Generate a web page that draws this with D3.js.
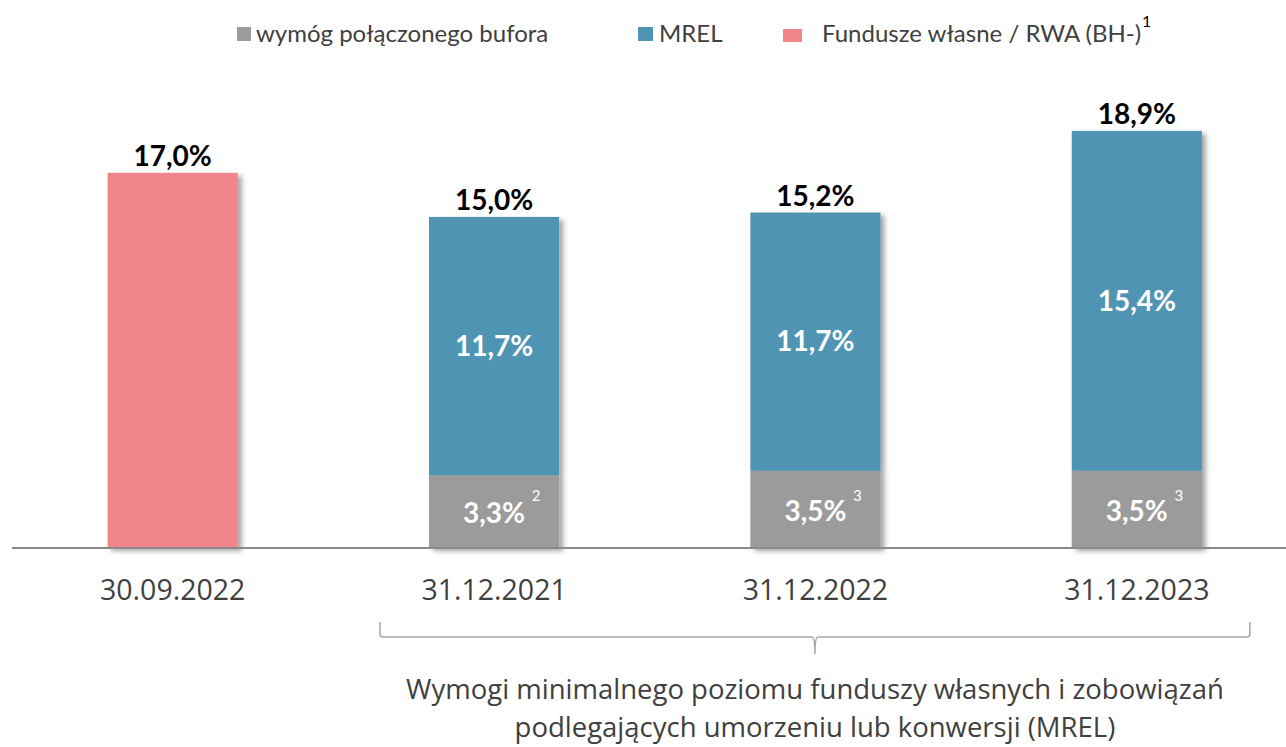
<!DOCTYPE html>
<html>
<head>
<meta charset="utf-8">
<script src="https://cdn.jsdelivr.net/npm/d3@7"></script>
<style>
  html, body { margin: 0; padding: 0; background: #ffffff; }
  svg { display: block; }
</style>
</head>
<body>
<svg id="chart" width="1286" height="747"></svg>
<script>
// Capital requirement data (percent of RWA)
const categories = ["30.09.2022", "31.12.2021", "31.12.2022", "31.12.2023"];
const bufferValues = [null, 3.3, 3.5, 3.5];      // wymóg połączonego bufora
const mrelValues = [null, 11.7, 11.7, 15.4];     // MREL
const ownFundsValues = [17.0, null, null, null]; // Fundusze własne / RWA (BH-)
const bufferNotes = [null, "2", "3", "3"];
const legendLabels = ["wymóg połączonego bufora", "MREL", "Fundusze własne / RWA (BH-)"];
const bracketLines = [
  "Wymogi minimalnego poziomu funduszy własnych i zobowiązań",
  "podlegających umorzeniu lub konwersji (MREL)"
];

const colors = { buffer: "#9b9b9b", mrel: "#4f95b3", own: "#f0868a" };
const fmt = v => d3.format(".1f")(v).replace(".", ",") + "%";

const svg = d3.select("#chart");
const W = 1286;

const baseY = 548;
const x = d3.scaleBand().domain(categories).range([12, 1297.5])
  .paddingInner(0.595).paddingOuter(0.2975);
const y = d3.scaleLinear().domain([0, 20]).range([baseY, baseY - 20 * 22.07]);

// drop shadow for the bars
const defs = svg.append("defs");
const f = defs.append("filter").attr("id", "shadow")
  .attr("x", "-20%").attr("y", "-20%").attr("width", "150%").attr("height", "150%");
f.append("feDropShadow").attr("dx", 4).attr("dy", 3).attr("stdDeviation", 2.5)
  .attr("flood-color", "#000").attr("flood-opacity", 0.35);

// rows with stacked segments
const rows = categories.map((c, i) => ({
  cat: c,
  own: ownFundsValues[i],
  buffer: bufferValues[i],
  mrel: mrelValues[i],
  note: bufferNotes[i],
  total: ownFundsValues[i] != null ? ownFundsValues[i] : bufferValues[i] + mrelValues[i]
}));

const bars = svg.append("g");
rows.forEach(r => {
  const g = bars.append("g").attr("filter", "url(#shadow)");
  const bx = x(r.cat), bw = x.bandwidth();
  if (r.own != null) {
    g.append("rect").attr("x", bx).attr("width", bw)
      .attr("y", y(r.own)).attr("height", y(0) - y(r.own)).attr("fill", colors.own);
  } else {
    g.append("rect").attr("x", bx).attr("width", bw)
      .attr("y", y(r.buffer)).attr("height", y(0) - y(r.buffer)).attr("fill", colors.buffer);
    g.append("rect").attr("x", bx).attr("width", bw)
      .attr("y", y(r.buffer + r.mrel)).attr("height", y(r.buffer) - y(r.buffer + r.mrel))
      .attr("fill", colors.mrel);
  }
});

// axis baseline with category labels
const xAxis = d3.axisBottom(x).tickSize(0);
const axisG = svg.append("g").attr("transform", `translate(0,${baseY})`).call(xAxis);
axisG.select(".domain").attr("d", `M12,0H${W}`).attr("stroke", "#8a8a8a").attr("stroke-width", 2);
axisG.selectAll(".tick text")
  .attr("font-family", "'Open Sans', sans-serif").attr("font-size", 28.5)
  .attr("fill", "#404040").attr("y", 52).attr("dy", 0);

const labelFont = "Lato, 'Open Sans', sans-serif";

// total labels above bars
svg.append("g").selectAll("text").data(rows).join("text")
  .attr("x", d => x(d.cat) + x.bandwidth() / 2)
  .attr("y", d => y(d.total) - 7)
  .attr("text-anchor", "middle")
  .attr("font-family", labelFont).attr("font-weight", 700).attr("font-size", 28)
  .attr("fill", "#000").text(d => fmt(d.total));

// inner labels
const stacked = rows.filter(r => r.own == null);
svg.append("g").selectAll("text").data(stacked).join("text")
  .attr("x", d => x(d.cat) + x.bandwidth() / 2)
  .attr("y", d => (y(d.buffer) + y(d.buffer + d.mrel)) / 2)
  .attr("dy", "0.35em")
  .attr("text-anchor", "middle")
  .attr("font-family", labelFont).attr("font-weight", 700).attr("font-size", 28)
  .attr("fill", "#fff").text(d => fmt(d.mrel));

svg.append("g").selectAll("text").data(stacked).join("text")
  .attr("x", d => x(d.cat) + x.bandwidth() / 2)
  .attr("y", d => (y(d.buffer) + y(0)) / 2 + 2)
  .attr("dy", "0.35em")
  .attr("text-anchor", "middle")
  .attr("font-family", labelFont).attr("font-weight", 700).attr("font-size", 28)
  .attr("fill", "#fff").text(d => fmt(d.buffer));

// footnote markers next to the buffer values
svg.append("g").selectAll("text").data(stacked).join("text")
  .attr("x", d => x(d.cat) + x.bandwidth() / 2 + 42)
  .attr("y", y(0) - 47)
  .attr("text-anchor", "middle")
  .attr("font-family", labelFont).attr("font-size", 15)
  .attr("fill", "#fff").text(d => d.note);

// legend
const legend = svg.append("g").attr("font-family", labelFont).attr("font-size", 24).attr("fill", "#404040");
const legendItems = [
  { label: legendLabels[0], color: colors.buffer, sx: 237, sy: 27, sw: 14, sh: 14, tx: 256 },
  { label: legendLabels[1], color: colors.mrel, sx: 638, sy: 27, sw: 15, sh: 14, tx: 659 },
  { label: legendLabels[2], color: colors.own, sx: 783, sy: 29, sw: 19, sh: 13, tx: 822 }
];
legendItems.forEach(it => {
  legend.append("rect").attr("x", it.sx).attr("y", it.sy).attr("width", it.sw).attr("height", it.sh).attr("fill", it.color);
  legend.append("text").attr("x", it.tx).attr("y", 42).attr("fill", "#404040").text(it.label);
});
legend.append("text").attr("x", 1142).attr("y", 27).attr("font-size", 16).attr("fill", "#000").text("1");

// bracket spanning the MREL dates
const bx0 = x(categories[1]) + x.bandwidth() / 2 - 114;
const bx1 = x(categories[3]) + x.bandwidth() / 2 + 113;
const bmid = (bx0 + bx1) / 2;
const bTop = 622, bH = 637, bTip = 654;
svg.append("path")
  .attr("d", `M${bx0},${bTop} V${bH - 3} Q${bx0},${bH} ${bx0 + 3},${bH} H${bmid - 3} Q${bmid},${bH} ${bmid},${bTip} Q${bmid},${bH} ${bmid + 3},${bH} H${bx1 - 3} Q${bx1},${bH} ${bx1},${bH - 3} V${bTop}`)
  .attr("fill", "none").attr("stroke", "#a6a6a6").attr("stroke-width", 1.5);

svg.append("g").selectAll("text").data(bracketLines).join("text")
  .attr("x", bmid).attr("y", (d, i) => 699 + i * 38)
  .attr("text-anchor", "middle")
  .attr("font-family", "'Open Sans', sans-serif").attr("font-size", 27.5)
  .attr("fill", "#404040").text(d => d);
</script>
</body>
</html>
